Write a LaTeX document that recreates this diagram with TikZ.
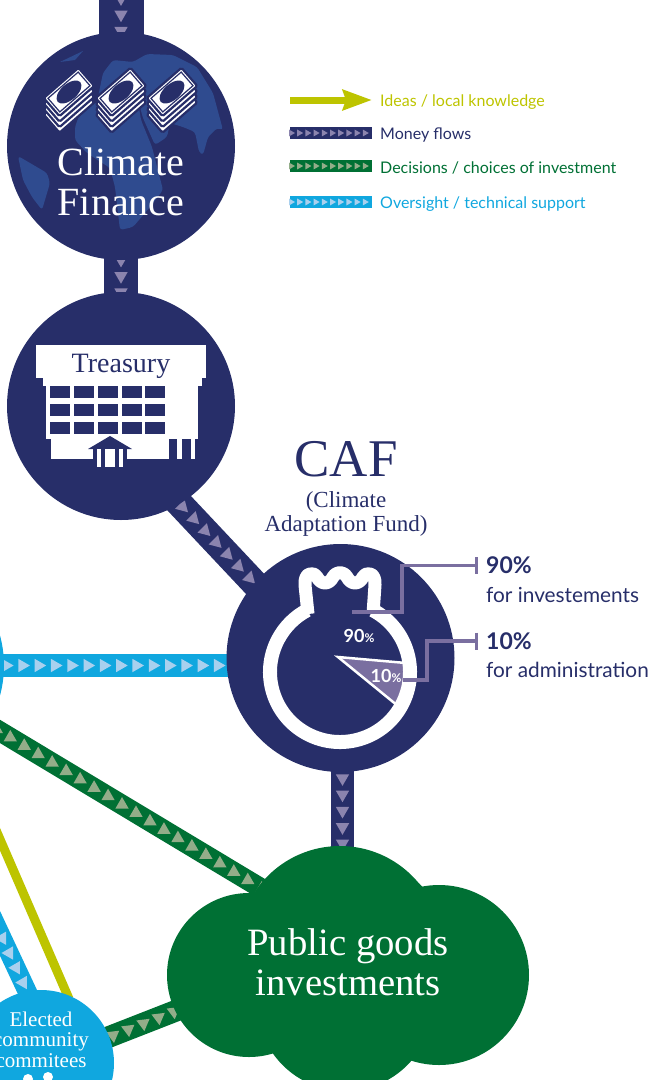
\documentclass[tikz,border=0pt]{standalone}
\usepackage{fontspec}
\setmainfont{Liberation Serif}
\newfontfamily\lato{Lato}
\usetikzlibrary{positioning, backgrounds, decorations.markings, arrows.meta}

\definecolor{cafnavy}{HTML}{272E69}
\definecolor{cafnavytip}{HTML}{8B84AE}
\definecolor{cafgreen}{HTML}{007034}
\definecolor{cafgreentip}{HTML}{93AD89}
\definecolor{cafcyan}{HTML}{10A7DF}
\definecolor{cafcyantip}{HTML}{A9D0EE}
\definecolor{cafyellow}{HTML}{BDC400}
\definecolor{cafland}{HTML}{2F4B8F}
\definecolor{cafleader}{HTML}{7A6FA0}

\tikzset{
    hub/.style={circle, fill=#1, inner sep=0pt, minimum size=228pt},
    band/.style n args={4}{line width=#1, draw=#2, line cap=rect,
        postaction={decorate, decoration={markings,
            mark=between positions #3 and 1 step 16.3pt with {\pgftransformresetnontranslations
                \fill[#2tip, rotate=#4] (0:7.7pt) -- (120:7.7pt) -- (240:7.7pt) -- cycle;}}}},
    keyband/.style={line width=12.5pt, draw=#1,
        postaction={decorate, decoration={markings,
            mark=between positions 1pt and 1 step 8.2pt with {
                \fill[#1tip] (0:4pt) -- (120:4pt) -- (240:4pt) -- cycle;}}}},
    keytext/.style={anchor=west, inner xsep=8pt, inner ysep=0pt, text=#1, font=\lato\fontsize{16}{18}\selectfont},
    pctlabel/.style={anchor=west, inner xsep=8pt, inner ysep=0pt, text=cafnavy, font=\lato\bfseries\fontsize{23}{24}\selectfont},
    pctnote/.style={anchor=west, inner sep=0pt, text=cafnavy, font=\lato\fontsize{20.8}{24}\selectfont},
    leader/.style={draw=cafleader, line width=3.5pt, -{Bar[width=17pt,line width=3.5pt]}},
    bigserif/.style={text=#1, align=center, inner sep=0pt, font=\fontsize{40}{39.5}\selectfont},
    note/.style={fill=white, draw=cafnavy, line width=2.2pt, rounded corners=1.5pt},
    landmass/.style={fill=cafland, rounded corners=3pt},
}

\begin{document}
\begin{tikzpicture}[x=1pt,y=1pt]
    \useasboundingbox (0,0) rectangle (651,-1080);

    \node[hub=cafnavy] (cfin) at (121,-146) {};
    \node[hub=cafnavy] (treas) at (121,-406) {};
    \node[hub=cafnavy] (caf) at (340.5,-658) {};
    \node[hub=cafcyan] (lefthub) at (-110,-665.5) {};
    \node[circle, fill=cafcyan, inner sep=0pt, minimum size=146pt] (elected) at (41,-1063) {};
    \coordinate (topin) at (121,20);
    \coordinate (ideasin) at (-17,-800);
    \coordinate (overin) at (-25,-880);
    \coordinate (choicein) at (-20,-719.4);

    % Public goods cloud
    \fill[cafgreen] (249,-975) circle (82pt);
    \fill[cafgreen] (340,-948) circle (102pt);
    \fill[cafgreen] (439,-975) circle (90pt);
    \fill[cafgreen] (345,-1003) circle (88pt);
    \node[circle, fill=cafgreen, inner sep=0pt, minimum size=190pt, text=white, align=center,
        font=\fontsize{38.7}{40}\selectfont] (pub) at (348,-962) {Public goods\\investments};

    % Flows
    \begin{scope}[on background layer]
        \draw[band={45pt}{cafnavy}{1.9pt}{-90}] (topin) -- (cfin.center);
        \draw[band={34pt}{cafnavy}{15.9pt}{-90}] (cfin.center) -- (treas.center);
        \draw[band={27pt}{cafnavy}{4pt}{-45}] (treas.-59) -- (caf.139);
        \draw[band={23pt}{cafcyan}{1.7pt}{0}] (lefthub.east) -- (lefthub.east -| caf.west);
        \draw[band={23pt}{cafnavy}{6pt}{-90}] (caf.-89) -- (caf.-89 |- pub.north);
        \draw[band={20pt}{cafgreen}{2.7pt}{90}] (choicein) -- (pub.139);
        \draw[band={21.6pt}{cafgreen}{4pt}{-83}] (elected.21) -- (pub.192.5);
        \draw[band={19pt}{cafcyan}{15.4pt}{180}] (overin) -- (elected.101);
        \draw[cafyellow, line width=9pt, line cap=rect] (ideasin) -- (elected.69);
    \end{scope}

    % Globe
    \begin{scope}
        \clip (121,-146) circle (114pt);
        % Eurasia
        \path[landmass] (97,-102) -- (103,-73) -- (113,-60) -- (133,-62) -- (147,-54) -- (173,-55) -- (197,-67)
            -- (213,-93) -- (223,-130) -- (217,-128) -- (208,-137) -- (203,-155) -- (199,-152) -- (195,-132)
            -- (183,-127) -- (170,-123) -- (167,-137) -- (155,-145) -- (143,-118) -- (138,-100) -- cycle;
        % Africa
        \path[landmass] (75,-127) -- (80,-113) -- (97,-102) -- (138,-102) -- (141,-120) -- (152,-147) -- (163,-190)
            -- (150,-207) -- (133,-227) -- (120,-230) -- (115,-187) -- (110,-168) -- (87,-153) -- (75,-140) -- cycle;
        % South America
        \path[landmass] (18,-156) -- (30,-163) -- (47,-173) -- (50,-183) -- (42,-210)
            -- (32,-197) -- (23,-180) -- cycle;
        \fill[cafland] (60,-62) -- (83,-51) -- (75,-60) -- cycle;
    \end{scope}

    % Money stacks
    \foreach \sx in {69,121,172} {
        \foreach \k in {3,2,1} {
            \draw[note, rotate around={41:(\sx,-92-\k*5.5)}] (\sx-23,-104-\k*5.5) rectangle (\sx+23,-80-\k*5.5);
        }
        \begin{scope}[shift={(\sx,-92)}, rotate=41]
            \draw[note] (-23,-12) rectangle (23,12);
            \draw[cafnavy, line width=1.2pt] (-20,-9) rectangle (20,9);
            \fill[cafnavy] (0,0) ellipse (15pt and 8pt);
        \end{scope}
    }
    \node[bigserif=white] (cfintext) at (121,-182) {Climate\\Finance};

    % Treasury building
    \fill[white] (36,-345) rectangle (206,-378);
    \fill[white] (43,-378) rectangle (202,-386);
    \fill[white] (46,-386) rectangle (198,-439);
    \fill[white] (51,-439) rectangle (169,-459);
    \fill[white] (177,-439) rectangle (182,-459);
    \fill[white] (191,-439) rectangle (195,-459);
    \foreach \wx in {50,74,98,121.5,145} {
        \foreach \wy in {386,403.5,421.5} {
            \fill[cafnavy] (\wx,-\wy) rectangle ++(20,-12);
        }
    }
    \fill[cafnavy] (110,-436) -- (132,-449) -- (88,-449) -- cycle;
    \fill[cafnavy] (93,-449) rectangle (127,-459);
    \fill[white] (97,-449) rectangle (101,-467);
    \fill[white] (105,-449) rectangle (115,-467);
    \fill[white] (119,-449) rectangle (123,-467);
    \node[text=cafnavy, inner sep=0pt, font=\fontsize{28}{28}\selectfont] (treastext) at (121,-366) {Treasury};

    % CAF title
    \node[text=cafnavy, inner sep=0pt, font=\fontsize{53}{54}\selectfont] (caftitle) at (346,-459) {CAF};
    \node[text=cafnavy, inner sep=0pt, align=center, font=\fontsize{23}{24}\selectfont] (cafname) at (346,-514) {(Climate\\Adaptation Fund)};

    % Money bag
    \filldraw[fill=cafleader, draw=white, line width=2.5pt] (338,-657) -- (406,-663) -- (408,-690) -- (398,-706) -- cycle;
    \draw[white, line width=14pt] (340,-672) ++(62:70) arc (62:-242:70);
    \draw[white, line width=13pt, line join=round, line cap=butt] (308,-614) -- (305,-585) .. controls (304,-574) and (312,-570) .. (317,-577)
        .. controls (321,-585) and (329,-585) .. (333,-577) .. controls (337,-571) and (343,-571) .. (347,-577)
        .. controls (351,-585) and (359,-585) .. (363,-577) .. controls (368,-570) and (376,-574) .. (375,-585) -- (373,-614);
    \node[text=white, inner sep=0pt, font=\lato\bfseries\fontsize{18}{18}\selectfont] (ninetyin) at (359,-636) {90{\fontsize{12}{12}\selectfont\%}};
    \node[text=white, inner sep=0pt, font=\lato\bfseries\fontsize{18}{18}\selectfont] (tenin) at (386,-676) {10{\fontsize{12}{12}\selectfont\%}};

    % Shares
    \node[pctlabel] (ninety) at (478,-565.5) {90\%};
    \node[pctnote] (ninetynote) at (486,-595) {for investements};
    \node[pctlabel] (ten) at (478,-641) {10\%};
    \node[pctnote] (tennote) at (486,-670) {for administration};
    \coordinate (ninetyfrom) at (352,-612);
    \coordinate (tenfrom) at (403,-680);
    \draw[leader] (ninetyfrom) -- (402,-612) |- (ninety.west);
    \draw[leader] (tenfrom) -- (427,-680) |- (ten.west);

    % Elected committees
    \node[text=white, inner sep=0pt, align=center, font=\fontsize{21}{20.5}\selectfont] (electedtext) at (41,-1039.5) {Elected\\community\\commitees};
    \fill[white] (28,-1079) circle (5pt);
    \fill[white] (48,-1077) circle (5pt);

    % Key
    \node[keytext=cafyellow] (keyideas) at (372,-102) {Ideas / local knowledge};
    \node[keytext=cafnavy] (keymoney) at (372,-135) {Money flows};
    \node[keytext=cafgreen] (keychoice) at (372,-167.5) {Decisions / choices of investment};
    \node[keytext=cafcyan] (keyover) at (372,-204) {Oversight / technical support};
    \coordinate (keyideasin) at (290,-100);
    \coordinate (keymoneyin) at (290,-133);
    \coordinate (keychoicein) at (290,-166);
    \coordinate (keyoverin) at (290,-202);
    \draw[cafyellow, line width=7pt, -{Stealth[length=29pt,width=20pt,inset=3pt]}] (keyideasin) -- (372,-100);
    \draw[keyband=cafnavy] (keymoneyin) -- (keymoneyin -| keymoney.west);
    \draw[keyband=cafgreen] (keychoicein) -- (keychoicein -| keychoice.west);
    \draw[keyband=cafcyan] (keyoverin) -- (keyoverin -| keyover.west);
\end{tikzpicture}
\end{document}
